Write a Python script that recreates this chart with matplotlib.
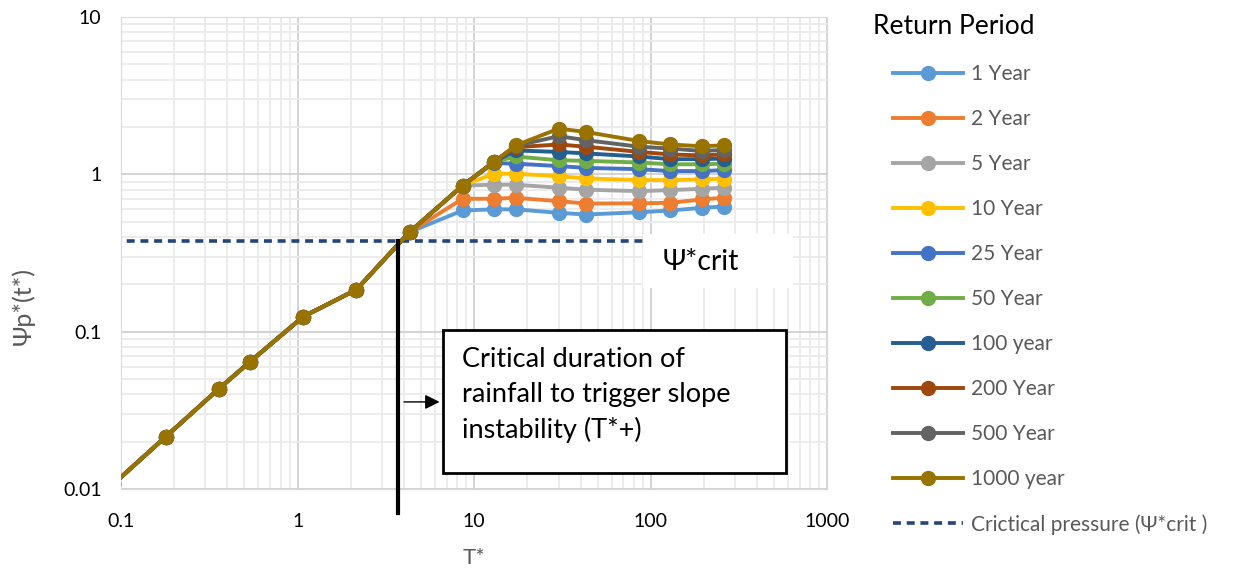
import matplotlib
matplotlib.use("Agg")
import matplotlib.pyplot as plt
from matplotlib.patches import Rectangle

plt.rcParams['font.family'] = ['Lato', 'DejaVu Sans']

# time axis (T*) and the common rising part shared by all return periods
t_star = [0.09, 0.179, 0.358, 0.537, 1.075, 2.15, 4.3, 8.6, 12.9, 17.2, 30.1, 43, 86, 129, 194, 258]
trunk = [0.0107, 0.0215, 0.0434, 0.0644, 0.1247, 0.185, 0.43]

labels = ["1 Year", "2 Year", "5 Year", "10 Year", "25 Year", "50 Year",
          "100 year", "200 Year", "500 Year", "1000 year"]
colors = ["#5B9BD5", "#ED7D31", "#A5A5A5", "#FFC000", "#4472C4", "#70AD47",
          "#255E91", "#9E480E", "#636363", "#997300"]

# values from T* = 8.6 onwards
tail_1 = [0.59, 0.60, 0.60, 0.57, 0.556, 0.575, 0.59, 0.613, 0.625]
tail_2 = [0.70, 0.70, 0.71, 0.676, 0.653, 0.655, 0.66, 0.693, 0.711]
tail_5 = [0.85, 0.86, 0.86, 0.823, 0.80, 0.783, 0.795, 0.81, 0.823]
tail_10 = [0.85, 1.01, 1.01, 0.975, 0.943, 0.92, 0.92, 0.93, 0.94]
tail_25 = [0.85, 1.18, 1.17, 1.13, 1.10, 1.08, 1.05, 1.05, 1.065]
tail_50 = [0.85, 1.20, 1.30, 1.23, 1.22, 1.19, 1.16, 1.16, 1.17]
tail_100 = [0.85, 1.20, 1.42, 1.39, 1.36, 1.30, 1.25, 1.25, 1.26]
tail_200 = [0.85, 1.20, 1.49, 1.55, 1.50, 1.39, 1.34, 1.32, 1.34]
tail_500 = [0.85, 1.20, 1.52, 1.75, 1.65, 1.50, 1.46, 1.41, 1.43]
tail_1000 = [0.85, 1.20, 1.53, 1.955, 1.86, 1.63, 1.55, 1.51, 1.53]
tails = [tail_1, tail_2, tail_5, tail_10, tail_25, tail_50, tail_100, tail_200, tail_500, tail_1000]

crit_value = 0.38
crit_T = [0.09, 258]
trigger_T = 3.7

fig = plt.figure(figsize=(12.35, 5.7), dpi=100)
ax = fig.add_axes([0.098, 0.142, 0.572, 0.828])

handles = []
for lab, col, tail in zip(labels, colors, tails):
    h, = ax.plot(t_star, trunk + tail, color=col, lw=2.8, marker='o', ms=10,
                 label=lab, zorder=3)
    handles.append(h)

h, = ax.plot(crit_T, [crit_value, crit_value], color="#264478", lw=2.6,
             ls=(0, (2.2, 1.6)), label="Crictical pressure (\u03a8*crit )", zorder=2)
handles.append(h)

ax.set_xscale('log')
ax.set_yscale('log')
ax.set_xlim(0.1, 1000)
ax.set_ylim(0.01, 10)
ax.set_xticks([0.1, 1, 10, 100, 1000])
ax.set_xticklabels(["0.1", "1", "10", "100", "1000"])
ax.set_yticks([0.01, 0.1, 1, 10])
ax.set_yticklabels(["0.01", "0.1", "1", "10"])
ax.grid(True, which='major', color='#d0d0d0', lw=1.3)
ax.grid(True, which='minor', color='#ebebeb', lw=1.3)
ax.set_axisbelow(True)
ax.tick_params(which='both', length=0, labelsize=14, colors='#000000')
ax.tick_params(axis='x', pad=17)
ax.tick_params(axis='y', pad=14)
for s in ax.spines.values():
    s.set_color('#d9d9d9')

ax.set_xlabel("T*", fontsize=16, color='#595959')
ax.set_ylabel("\u03a8p*(t*)", fontsize=18, color='#595959')
ax.xaxis.set_label_coords(0.5, -0.125)
ax.yaxis.set_label_coords(-0.122, 0.388)

# vertical marker for critical duration
ax.plot([trigger_T, trigger_T], [crit_value, 0.0070], color='black', lw=3,
        clip_on=False, zorder=4)
ax.annotate("", xy=(6.6, 0.0358), xytext=(3.86, 0.0358),
            arrowprops=dict(arrowstyle='-|>', color='black', lw=1, mutation_scale=22),
            zorder=5)

# annotation box
fig.patches.append(Rectangle((443 / 1235, 1 - 473 / 570), 343 / 1235, 143 / 570,
                             transform=fig.transFigure, fc='white', ec='black', lw=2,
                             zorder=5))
fig.text(462 / 1235, 1 - 395 / 570,
         "Critical duration of\nrainfall to trigger slope\ninstability (T*+)",
         ha='left', va='center', fontsize=19.5, linespacing=1.5, zorder=6)

# crit label with white background
fig.patches.append(Rectangle((643 / 1235, 1 - 288 / 570), 150 / 1235, 54 / 570,
                             transform=fig.transFigure, fc='white', ec='none', zorder=5))
fig.text(663 / 1235, 1 - 262 / 570, "\u03a8*crit", ha='left', va='center',
         fontsize=20.5, zorder=6)

fig.text(873 / 1235, 1 - 26 / 570, "Return Period", ha='left', va='center',
         fontsize=19)
leg = fig.legend(handles=handles, loc='upper left', bbox_to_anchor=(893 / 1235, 1 - 64 / 570),
                 frameon=False, fontsize=15, handlelength=3.36, handletextpad=0.4,
                 labelspacing=1.2, borderpad=0, borderaxespad=0)
for txt in leg.get_texts():
    txt.set_color('#595959')

fig.savefig("out.png", dpi=100)
